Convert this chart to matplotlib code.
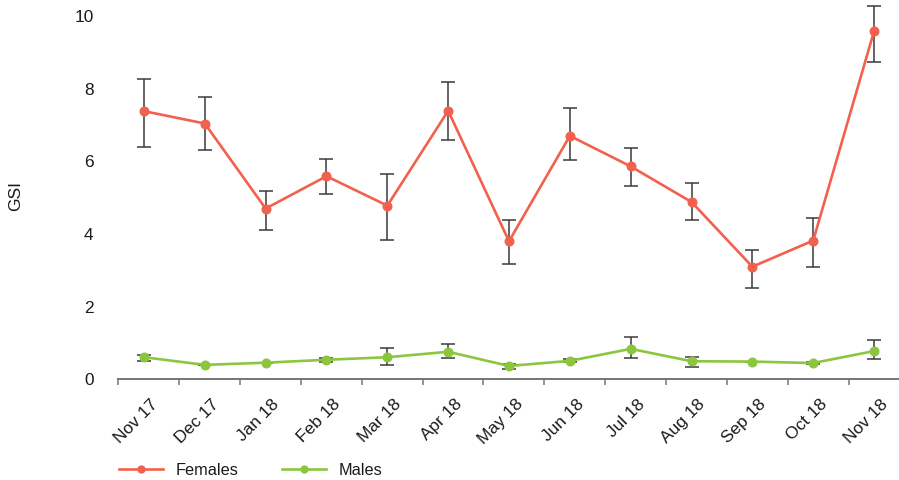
import matplotlib
matplotlib.use("Agg")
import matplotlib.pyplot as plt

plt.rcParams['font.family'] = ['Liberation Sans', 'DejaVu Sans']

months = ["Nov 17", "Dec 17", "Jan 18", "Feb 18", "Mar 18", "Apr 18", "May 18",
          "Jun 18", "Jul 18", "Aug 18", "Sep 18", "Oct 18", "Nov 18"]

females_mean = [7.35, 7.01, 4.67, 5.56, 4.75, 7.36, 3.77, 6.67, 5.83, 4.85, 3.07, 3.79, 9.55]
females_upper = [8.24, 7.75, 5.15, 6.03, 5.63, 8.16, 4.36, 7.43, 6.34, 5.36, 3.54, 4.42, 10.25]
females_lower = [6.37, 6.28, 4.09, 5.07, 3.80, 6.56, 3.14, 6.01, 5.29, 4.35, 2.48, 3.05, 8.70]

males_mean = [0.58, 0.37, 0.43, 0.51, 0.58, 0.73, 0.34, 0.48, 0.81, 0.47, 0.46, 0.42, 0.75]
males_upper = [0.64, 0.37, 0.43, 0.56, 0.83, 0.94, 0.40, 0.52, 1.15, 0.60, 0.46, 0.46, 1.05]
males_lower = [0.48, 0.37, 0.43, 0.46, 0.37, 0.56, 0.26, 0.44, 0.55, 0.32, 0.46, 0.38, 0.52]

y_ticks = [0, 2, 4, 6, 8, 10]

female_color = "#F2604E"
male_color = "#8CC63F"
err_color = "#3a3a3a"
axis_color = "#767676"

W, H = 899, 481
fig = plt.figure(figsize=(W / 100, H / 100), dpi=100)
ax = fig.add_axes([118.4 / W, (H - 380.4) / H, 1 - 118.4 / W, 377.3 / H])

x = list(range(len(months)))


def draw_series(mean, upper, lower, color, label):
    yerr = [[m - lo for m, lo in zip(mean, lower)], [u - m for m, u in zip(mean, upper)]]
    ax.errorbar(x, mean, yerr=yerr, fmt="none", ecolor=err_color, elinewidth=1.1,
                capsize=5, capthick=1.1, zorder=2)
    ax.plot(x, mean, color=color, lw=1.9, marker="o", ms=6.2, zorder=3, label=label)


draw_series(females_mean, females_upper, females_lower, female_color, "Females")
draw_series(males_mean, males_upper, males_lower, male_color, "Males")

ax.set_xlim(-0.42, 12.41)
ax.set_ylim(-0.03, 10.35)

for s in ("top", "right", "left"):
    ax.spines[s].set_visible(False)
ax.spines["bottom"].set_color(axis_color)
ax.spines["bottom"].set_linewidth(1.4)

# boundary tick marks between months
ax.set_xticks([i - 0.42 for i in x])
ax.tick_params(axis="x", which="major", length=4.5, width=1.1, color=axis_color,
               labelbottom=False)
# month labels centred under each point
ax.set_xticks([i + 0.1 for i in x], labels=months, minor=True)
ax.tick_params(axis="x", which="minor", length=0, pad=11.5, labelsize=12.4,
               labelcolor="#1a1a1a")
for lbl in ax.get_xticklabels(minor=True):
    lbl.set_rotation(45)
    lbl.set_rotation_mode("anchor")
    lbl.set_ha("right")
    lbl.set_va("top")

ax.set_yticks(y_ticks, labels=[str(v) for v in y_ticks])
ax.tick_params(axis="y", length=0, pad=18, labelsize=12.4, labelcolor="#1a1a1a")

fig.text(16 / W, 1 - 196 / H, "GSI", rotation=90, ha="center", va="center",
         fontsize=12.5, color="#1a1a1a")

fig.legend(loc="center left", bbox_to_anchor=(119 / W, 1 - 471 / H), ncol=2,
           frameon=False, borderpad=0, borderaxespad=0, handlelength=2.7,
           handletextpad=0.8, columnspacing=2.65, fontsize=11.7, markerscale=0.8,
           labelcolor="#1a1a1a")

fig.savefig("out.png", dpi=100)
